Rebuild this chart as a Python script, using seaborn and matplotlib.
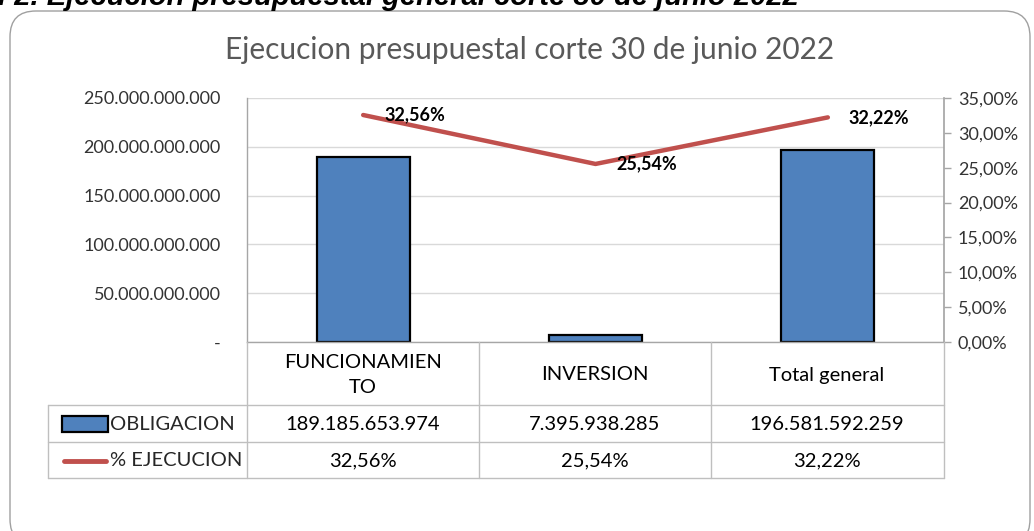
import numpy as np
import pandas as pd
import matplotlib
matplotlib.use("Agg")
import matplotlib.pyplot as plt
import seaborn as sns
from matplotlib.patches import FancyBboxPatch, Rectangle
from matplotlib.lines import Line2D

# datos
categorias = ["FUNCIONAMIENTO", "INVERSION", "Total general"]
etiquetas_tabla = ["FUNCIONAMIEN\nTO", "INVERSION", "Total general"]
obligacion = [189185653974, 7395938285, 196581592259]
ejecucion = [32.56, 25.54, 32.22]
ticks_izq = [0, 50e9, 100e9, 150e9, 200e9, 250e9]
ticks_der = [0, 5, 10, 15, 20, 25, 30, 35]

titulo = "Ejecucion presupuestal corte 30 de junio 2022"
encabezado = "l 2. Ejecucion presupuestal general corte 30 de junio 2022"

azul = "#4F81BD"
rojo = "#C0504D"
gris_txt = "#333333"
gris_linea = "#BFBFBF"


def miles(v):
    return f"{int(v):,}".replace(",", ".")


def pct(p):
    return f"{p:.2f}%".replace(".", ",")


sns.set_theme(style="white")
plt.rcParams['font.family'] = ['Lato', 'DejaVu Sans']

W, H = 1034, 531
fig = plt.figure(figsize=(W / 100, H / 100), dpi=100)


def fx(px):
    return px / W


def fy(py):
    return 1 - py / H


# marco redondeado
marco = FancyBboxPatch((fx(10), fy(545)), fx(1030) - fx(10), fy(11) - fy(545),
                       boxstyle="round,pad=0,rounding_size=0.025",
                       transform=fig.transFigure, facecolor="none",
                       edgecolor="#A0A0A0", linewidth=1.0, mutation_aspect=W / H,
                       zorder=-1)
fig.add_artist(marco)

# encabezado cortado arriba (como en la captura)
fig.text(fx(-2), fy(5), encabezado, ha="left", va="baseline",
         fontsize=21, fontweight="bold", fontstyle="italic",
         family=["Liberation Sans", "DejaVu Sans"], color="black")

fig.text(fx(530), fy(50), titulo, ha="center", va="center",
         fontsize=21.5, color="#595959")

df = pd.DataFrame({"rubro": categorias, "obligacion": obligacion,
                   "ejecucion": ejecucion})
df["pos"] = np.arange(len(df))

ax = fig.add_axes([fx(247), fy(342), fx(944) - fx(247), fy(98) - fy(342)])
ax.set_facecolor("none")
sns.barplot(data=df, x="rubro", y="obligacion", ax=ax, color=azul,
            width=0.4, edgecolor="black", linewidth=1.6, saturation=1)
ax.set_xlim(-0.5, 2.5)
ax.set_ylim(0, 250e9)
ax.set_yticks(ticks_izq)
ax.set_yticklabels(["-" if t == 0 else miles(t) for t in ticks_izq])
ax.set_xticks([])
ax.set_xlabel("")
ax.set_ylabel("")
ax.grid(axis="y", color="#D9D9D9", linewidth=1)
ax.set_axisbelow(True)
ax.tick_params(axis="y", length=0, pad=19, labelsize=13, labelcolor=gris_txt)
for s in ["top", "right"]:
    ax.spines[s].set_visible(False)
for s in ["left", "bottom"]:
    ax.spines[s].set_color("#A6A6A6")
    ax.spines[s].set_linewidth(1)

ax2 = ax.twinx()
sns.lineplot(data=df, x="pos", y="ejecucion", ax=ax2, color=rojo,
             linewidth=3.2, sort=False)
ax2.set_ylim(0, 35)
ax2.set_yticks(ticks_der)
ax2.set_yticklabels([pct(t) for t in ticks_der])
ax2.set_ylabel("")
ax2.set_xlabel("")
ax2.tick_params(axis="y", direction="out", length=5, width=1, color="#A6A6A6",
                pad=5, labelsize=13, labelcolor=gris_txt)
for s in ["top", "left", "bottom"]:
    ax2.spines[s].set_visible(False)
ax2.spines["right"].set_color("#A6A6A6")
ax2.set_xlim(-0.5, 2.5)
ax2.set_xticks([])

for x, v in zip(df["pos"], ejecucion):
    ax2.annotate(pct(v), (x, v), xytext=(15, 0), textcoords="offset points",
                 ha="left", va="center", fontsize=13, fontweight="bold",
                 color="black")

# tabla de datos
def hline(y, x0, x1):
    fig.add_artist(Line2D([fx(x0), fx(x1)], [fy(y), fy(y)],
                          transform=fig.transFigure, color=gris_linea, lw=1))


def vline(x, y0, y1):
    fig.add_artist(Line2D([fx(x), fx(x)], [fy(y0), fy(y1)],
                          transform=fig.transFigure, color=gris_linea, lw=1))


for y in [405, 442, 478]:
    hline(y, 48, 944)
vline(48, 405, 478)
for x in [247, 479, 711, 944]:
    vline(x, 342, 478)

centros = [363, 595, 827]
for cx, lab, ob, ej in zip(centros, etiquetas_tabla, obligacion, ejecucion):
    fig.text(fx(cx), fy(375), lab, ha="center", va="center", fontsize=14.5,
             color="black", linespacing=1.6)
    fig.text(fx(cx), fy(424), miles(ob), ha="center", va="center",
             fontsize=14.5, color="black")
    fig.text(fx(cx), fy(461), pct(ej), ha="center", va="center",
             fontsize=14.5, color="black")

fig.add_artist(Rectangle((fx(62), fy(432)), fx(108) - fx(62), fy(416) - fy(432),
                         transform=fig.transFigure, facecolor=azul,
                         edgecolor="black", linewidth=1.6))
fig.add_artist(Line2D([fx(64), fx(106)], [fy(461), fy(461)],
                      transform=fig.transFigure, color=rojo, lw=3.5,
                      solid_capstyle="round"))
fig.text(fx(110), fy(424), "OBLIGACION", ha="left", va="center", fontsize=14.5)
fig.text(fx(110), fy(461), "% EJECUCION", ha="left", va="center", fontsize=14.5)

fig.savefig("out.png", dpi=100)
